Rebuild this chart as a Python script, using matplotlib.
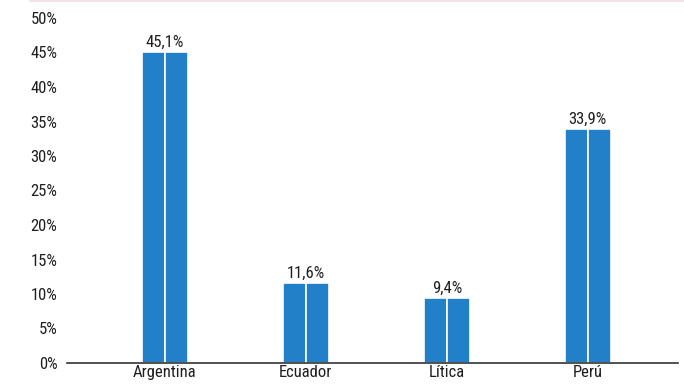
import matplotlib.pyplot as plt
from matplotlib.lines import Line2D
import numpy as np

categories = ["Argentina", "Ecuador", "Lítica", "Perú"]
values = [45.1, 11.6, 9.4, 33.9]
labels = ["45,1%", "11,6%", "9,4%", "33,9%"]
yticks = [0, 5, 10, 15, 20, 25, 30, 35, 40, 45, 50]

plt.rcParams['font.family'] = ['Roboto Condensed', 'DejaVu Sans']

blue = "#2280c8"
txt = "#1e1e1e"
fig = plt.figure(figsize=(6.84, 3.85), dpi=100)
ax = fig.add_axes([67/684, (385-363)/385, 611/684, (363-18)/385])

x = np.arange(len(categories))
w = 0.165
ax.bar(x - w/2, values, width=w, color=blue, edgecolor="white", linewidth=1.2)
ax.bar(x + w/2, values, width=w, color=blue, edgecolor="white", linewidth=1.2)
for xi, v, lab in zip(x, values, labels):
    ax.text(xi, v + 0.35, lab, ha="center", va="bottom", fontsize=12, color=txt)

ax.set_xlim(-0.695, 3.64)
ax.set_ylim(0, 50)
ax.set_yticks(yticks)
ax.set_yticklabels([f"{t}%" for t in yticks], fontsize=12, color=txt)
ax.set_xticks(x)
ax.set_xticklabels(categories, fontsize=12, color=txt)
ax.tick_params(axis="y", length=0, pad=7)
ax.tick_params(axis="x", length=0, pad=1.5)
for s in ["top", "right", "left"]:
    ax.spines[s].set_visible(False)
ax.spines["bottom"].set_color("#333333")
ax.spines["bottom"].set_linewidth(1.2)

fig.add_artist(Line2D([30/684, 1], [0.998, 0.998], color="#f2dde0", lw=1.2,
                      transform=fig.transFigure))

fig.savefig("out.png", dpi=100)
